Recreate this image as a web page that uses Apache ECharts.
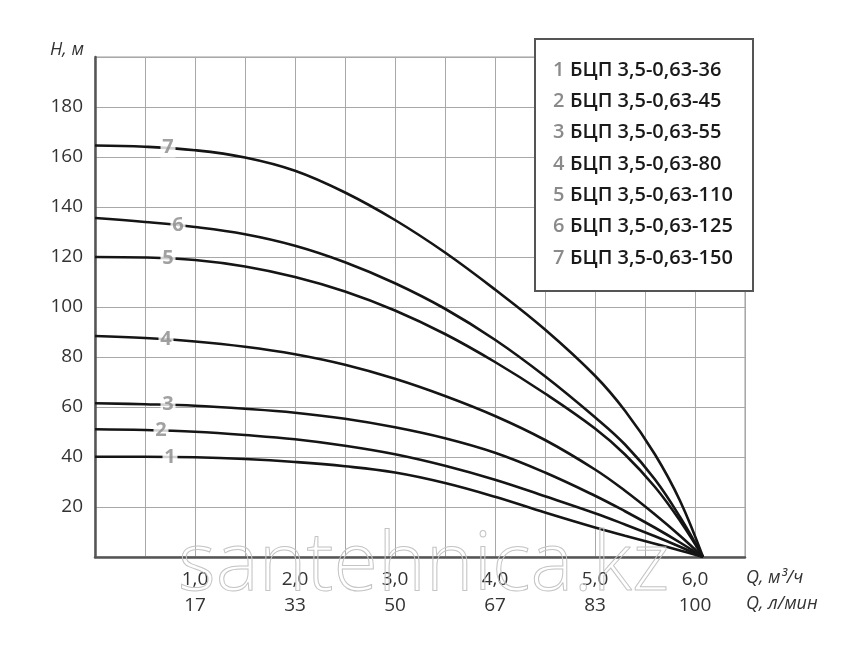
<!DOCTYPE html>
<html>
<head>
<meta charset="utf-8">
<script src="https://cdn.jsdelivr.net/npm/echarts@6/dist/echarts.min.js"></script>
<style>
html,body{margin:0;padding:0;background:#fff;}
#chart{width:850px;height:653px;}
</style>
</head>
<body>
<div id="chart"></div>
<script>
// Flow rate Q, m3/h (sample points along each curve)
var qValues = [0, 0.5, 1.0, 1.5, 2.0, 2.5, 3.0, 3.5, 4.0, 4.5, 5.0, 5.3, 5.6, 5.85, 6.08];
// Head H, m for each pump
var h1 = [40.1, 40.1, 39.9, 39.2, 38.0, 36.3, 33.8, 29.6, 24.1, 17.8, 11.8, 8.5, 5.3, 2.6, 0];
var h2 = [51.1, 50.8, 50.1, 48.8, 47.1, 44.5, 41.1, 36.5, 30.9, 24.3, 17.5, 13.0, 8.3, 4.1, 0];
var h3 = [61.5, 61.1, 60.5, 59.3, 57.7, 55.3, 51.9, 47.5, 41.7, 33.8, 24.5, 18.3, 11.7, 5.8, 0];
var h4 = [88.4, 87.6, 86.2, 84.1, 81.1, 76.9, 71.3, 64.4, 56.4, 46.8, 35.0, 26.5, 17.0, 8.5, 0];
var h5 = [120.0, 119.8, 118.8, 116.2, 112.0, 106.2, 98.6, 89.2, 78.0, 65.4, 51.4, 41.0, 28.0, 14.5, 0];
var h6 = [135.6, 134.0, 132.0, 129.1, 124.5, 117.9, 109.5, 99.3, 86.9, 72.3, 55.9, 45.0, 31.0, 16.0, 0];
var h7 = [164.6, 164.1, 162.7, 159.8, 154.5, 145.8, 134.8, 121.8, 107.0, 91.0, 72.5, 58.5, 41.0, 22.5, 0];
var curveNumbers = ['1', '2', '3', '4', '5', '6', '7'];
var pumpNames = ['БЦП 3,5-0,63-36', 'БЦП 3,5-0,63-45', 'БЦП 3,5-0,63-55', 'БЦП 3,5-0,63-80',
                 'БЦП 3,5-0,63-110', 'БЦП 3,5-0,63-125', 'БЦП 3,5-0,63-150'];
// Curve number label anchor points (Q, H)
var labelQ = [0.75, 0.66, 0.73, 0.71, 0.73, 0.83, 0.73];
var labelH = [39.8, 50.5, 60.9, 87.0, 119.5, 132.6, 163.8];
// Axis tick texts
var qTicks = ['1,0', '2,0', '3,0', '4,0', '5,0', '6,0'];
var lminTicks = ['17', '33', '50', '67', '83', '100'];
var yTickValues = [20, 40, 60, 80, 100, 120, 140, 160, 180];

var heads = [h1, h2, h3, h4, h5, h6, h7];
var FONT = '"Open Sans", "Noto Sans", sans-serif';

var chart = echarts.init(document.getElementById('chart'), null, {renderer: 'canvas'});

var series = heads.map(function (h, i) {
  return {
    type: 'line',
    name: curveNumbers[i],
    data: qValues.map(function (q, j) { return [q, h[j]]; }),
    smooth: 0.4,
    showSymbol: false,
    silent: true,
    lineStyle: {color: '#151515', width: 2.6},
    z: 3
  };
});
series.push({
  type: 'scatter',
  data: curveNumbers.map(function (n, i) { return {value: [labelQ[i], labelH[i]], name: n}; }),
  symbol: 'rect',
  symbolSize: [15, 20],
  itemStyle: {color: '#ffffff'},
  label: {
    show: true, position: 'inside', formatter: '{b}',
    color: '#8a8a8a', fontSize: 20, fontWeight: 'bold', fontFamily: FONT
  },
  silent: true,
  z: 5
});

var graphics = [];
// Legend box
var LX = 535, LY = 39, LW = 218, LH = 252;
graphics.push({
  type: 'rect', shape: {x: LX, y: LY, width: LW, height: LH},
  style: {fill: '#ffffff', stroke: '#555555', lineWidth: 2}, z: 10
});
pumpNames.forEach(function (name, i) {
  var cy = 70 + i * 31.3;
  graphics.push({
    type: 'text', x: 553, y: cy, z: 11,
    style: {text: curveNumbers[i], fill: '#8a8a8a', font: '600 20px ' + FONT, verticalAlign: 'middle', align: 'left'}
  });
  graphics.push({
    type: 'text', x: 570, y: cy, z: 11,
    style: {text: name, fill: '#1a1a1a', font: '600 20px ' + FONT, verticalAlign: 'middle', align: 'left'}
  });
});
// Axis names
graphics.push({
  type: 'text', x: 50, y: 50, z: 11,
  style: {text: 'H, м', fill: '#333', font: 'italic 18px ' + FONT, verticalAlign: 'middle', align: 'left'}
});
graphics.push({
  type: 'text', x: 746, y: 578, z: 11,
  style: {text: 'Q, м³/ч', fill: '#333', font: 'italic 18px ' + FONT, verticalAlign: 'middle', align: 'left'}
});
graphics.push({
  type: 'text', x: 746, y: 604, z: 11,
  style: {text: 'Q, л/мин', fill: '#333', font: 'italic 18px ' + FONT, verticalAlign: 'middle', align: 'left'}
});
// Watermark
graphics.push({
  type: 'text', x: 178, y: 567, z: 20, silent: true,
  style: {text: 'santehnica.kz', fill: 'rgba(255,255,255,0)', stroke: '#c4c4c4', lineWidth: 1,
          font: '300 81px ' + FONT, verticalAlign: 'middle', align: 'left'}
});

var option = {
  backgroundColor: '#ffffff',
  animation: false,
  grid: {left: 95, top: 57, width: 650, height: 500, show: true, borderColor: '#9a9a9a', borderWidth: 1, containLabel: false},
  xAxis: {
    type: 'value', min: 0, max: 6.5, interval: 0.5,
    axisLine: {show: true, onZero: false, lineStyle: {color: '#555', width: 2.5}},
    axisTick: {show: false},
    splitLine: {show: true, lineStyle: {color: '#a8a8a8', width: 1}},
    axisLabel: {
      margin: 10, color: '#333', fontSize: 19, lineHeight: 26, fontFamily: FONT,
      showMinLabel: true, showMaxLabel: true, hideOverlap: false,
      formatter: function (v) {
        var r = Math.round(v);
        if (Math.abs(v - r) > 1e-6 || r < 1 || r > 6) return '';
        return qTicks[r - 1] + '\n' + lminTicks[r - 1];
      }
    }
  },
  yAxis: {
    type: 'value', min: 0, max: 200, interval: 20,
    axisLine: {show: true, onZero: false, lineStyle: {color: '#555', width: 2.5}},
    axisTick: {show: false},
    splitLine: {show: true, lineStyle: {color: '#a8a8a8', width: 1}},
    axisLabel: {
      margin: 12, color: '#333', fontSize: 19, fontFamily: FONT,
      formatter: function (v) { return yTickValues.indexOf(v) >= 0 ? String(v) : ''; }
    }
  },
  series: series,
  graphic: graphics
};
chart.setOption(option);
</script>
</body>
</html>
